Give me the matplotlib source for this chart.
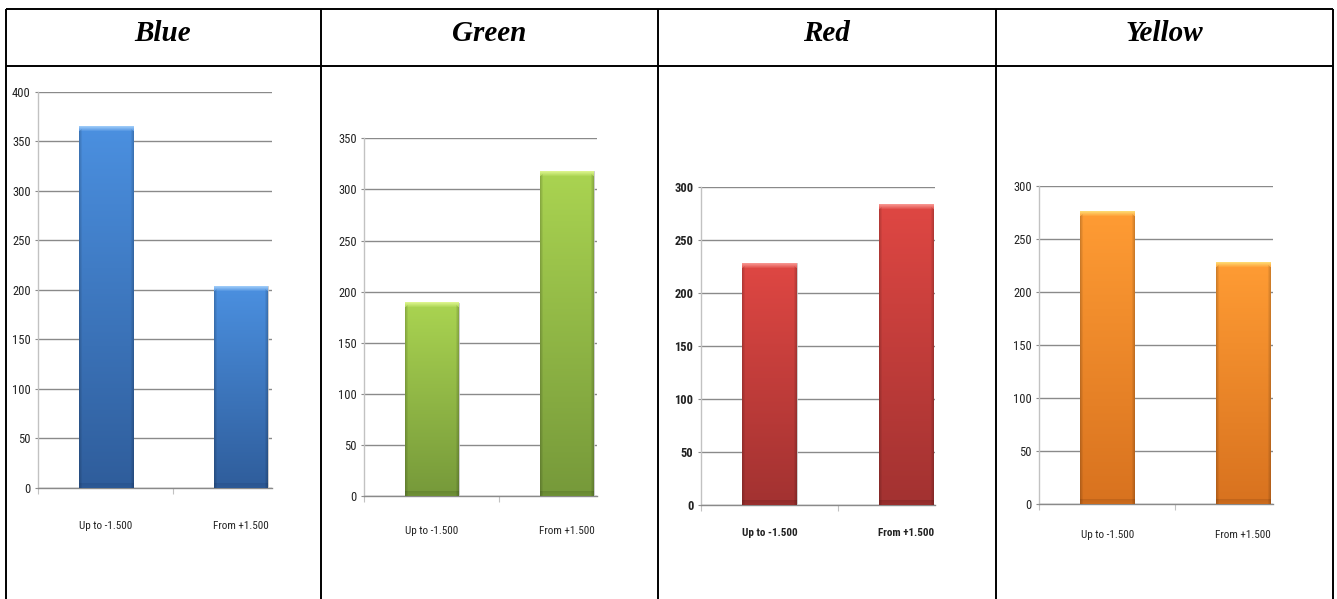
import numpy as np
import matplotlib
matplotlib.use("Agg")
import matplotlib.pyplot as plt
from matplotlib import font_manager as fm
from matplotlib.lines import Line2D
from matplotlib.ticker import MultipleLocator, FixedLocator

# ---- data -------------------------------------------------------------
categories = ["Up to -1.500", "From +1.500"]
titles = ["Blue", "Green", "Red", "Yellow"]
blue_counts = [365, 204]
green_counts = [189, 318]
red_counts = [228, 283]
yellow_counts = [275, 227]
y_maxima = [400, 350, 300, 300]

# ---- styling ----------------------------------------------------------
W, H = 1337, 599
DPI = 100


def pick_font(names):
    for n in names:
        try:
            fm.findfont(fm.FontProperties(family=n), fallback_to_default=False)
            return n
        except Exception:
            continue
    return "DejaVu Sans"


tick_font = pick_font(["Liberation Sans Narrow", "Roboto Condensed", "DejaVu Sans"])
head_font = pick_font(["Liberation Serif", "DejaVu Serif"])

# gradient palettes: (top, bottom, top highlight, bottom shade)
palettes = {
    "Blue": ("#4b90e0", "#2f5d9b", "#9ccaf8", "#27508a"),
    "Green": ("#aad451", "#76993a", "#dcf48c", "#5d7c2b"),
    "Red": ("#df4743", "#a23231", "#f7948f", "#852826"),
    "Yellow": ("#ff9c34", "#d8721f", "#ffd870", "#b45d18"),
}

# axes frames in pixels: left, top (y max), right, bottom (y = 0)
frames = [
    (38.3, 91.7, 271.7, 487.7),
    (364.3, 138.3, 596.7, 496.0),
    (701.0, 186.7, 935.0, 505.0),
    (1039.3, 185.7, 1272.7, 504.3),
]
cat_px = [135.0, 135.0, 136.7, 135.7]
label_pads = [24.0, 21.8, 16.8, 18.2]
bold_ticks = [False, False, True, False]

series = [blue_counts, green_counts, red_counts, yellow_counts]


def hex_rgb(h):
    return np.array(matplotlib.colors.to_rgb(h))


def bar_image(h_px, w_px, pal):
    top, bot, hi, lo = (hex_rgb(c) for c in pal)
    h_px = max(int(round(h_px)), 2)
    w_px = max(int(round(w_px)), 2)
    t = np.linspace(0, 1, h_px)[:, None]
    col = top * (1 - t) + bot * t
    img = np.repeat(col[:, None, :], w_px, axis=1)
    bevel = 5
    # bevelled top: light highlight fading into the bar colour
    for r in range(min(bevel, h_px)):
        a = 1 - r / bevel
        img[r] = img[r] * (1 - a) + hi * a
    # darker bottom band
    for r in range(min(bevel, h_px)):
        a = 0.35 + 0.65 * (r + 1) / bevel
        img[h_px - 1 - r] = img[h_px - 1 - r] * (1 - a * 0.6) + lo * a * 0.6
    # shaded side edges with diagonal corners below the highlight
    for c in range(3):
        f = 0.82 + 0.06 * c
        for r in range(h_px):
            if r >= bevel - c:
                img[r, c] *= f
                img[r, w_px - 1 - c] *= f
    return np.clip(img, 0, 1)


fig = plt.figure(figsize=(W / DPI, H / DPI), dpi=DPI)
fig.patch.set_facecolor("white")

x = np.arange(len(categories))
bar_w = 0.4

for i, (name, vals) in enumerate(zip(titles, series)):
    L, T, R, B = frames[i]
    ymax = y_maxima[i]
    # axes extend from y=0 up to ymax
    ax = fig.add_axes([L / W, 1 - B / H, (R - L) / W, (B - T) / H])
    right_lim = -0.5 + (R - L) / cat_px[i]

    px_per_unit = (B - T) / ymax
    pal = palettes[name]
    for xi, v in zip(x, vals):
        img = bar_image(v * px_per_unit, bar_w * cat_px[i], pal)
        ax.imshow(img, extent=[xi - bar_w / 2, xi + bar_w / 2, 0, v],
                  aspect="auto", interpolation="bilinear", zorder=3)
        # faint outline around the bar
        ax.add_patch(plt.Rectangle((xi - bar_w / 2, 0), bar_w, v, fill=False,
                                   edgecolor="#c4c4c4", lw=0.6, zorder=2.9))
    ax.set_xlim(-0.5, right_lim)
    ax.set_ylim(0, ymax)
    ax.set_aspect("auto")

    ax.set_axisbelow(True)
    ax.yaxis.set_major_locator(MultipleLocator(50))
    ax.yaxis.grid(True, color="#8a8a8a", lw=1.0)
    ax.xaxis.grid(False)
    for s in ("top", "right"):
        ax.spines[s].set_visible(False)
    ax.spines["left"].set_color("#c2c2c2")
    ax.spines["left"].set_linewidth(1.0)
    ax.spines["bottom"].set_color("#8a8a8a")
    ax.spines["bottom"].set_linewidth(1.0)

    weight = "bold" if bold_ticks[i] else "normal"
    ax.tick_params(axis="y", direction="out", length=2.2, width=0.8,
                   color="#8a8a8a", pad=3.3, labelsize=9, labelcolor="#222222")
    ax.xaxis.set_major_locator(FixedLocator(x))
    ax.set_xticklabels(categories)
    ax.xaxis.set_minor_locator(FixedLocator([-0.5, 0.5]))
    ax.tick_params(axis="x", which="major", length=0, pad=label_pads[i],
                   labelsize=8, labelcolor="#222222")
    ax.tick_params(axis="x", which="minor", direction="out", length=4.3,
                   width=0.8, color="#c2c2c2")
    for lab in ax.get_xticklabels() + ax.get_yticklabels():
        lab.set_fontfamily(tick_font)
        lab.set_fontweight(weight)

# ---- table frame and header row ---------------------------------------
col_edges = [5.5, 320.5, 657.5, 995.5, 1332.5]
top_y, head_y = 8.5, 65.5


def fx(px):
    return px / W


def fy(py):
    return 1 - py / H


line_kw = dict(color="black", lw=1.4, transform=fig.transFigure, solid_capstyle="butt")
fig.add_artist(Line2D([fx(col_edges[0]), fx(col_edges[-1])], [fy(top_y), fy(top_y)], **line_kw))
fig.add_artist(Line2D([fx(col_edges[0]), fx(col_edges[-1])], [fy(head_y), fy(head_y)], **line_kw))
for xe in col_edges:
    fig.add_artist(Line2D([fx(xe), fx(xe)], [fy(top_y), fy(H + 2)], **line_kw))

for i, name in enumerate(titles):
    cx = (col_edges[i] + col_edges[i + 1]) / 2
    fig.text(fx(cx), fy(41), name, ha="center", va="baseline",
             fontsize=21, fontweight="bold", fontstyle="italic",
             family=head_font, color="black")

fig.savefig("out.png", dpi=DPI, facecolor="white")
